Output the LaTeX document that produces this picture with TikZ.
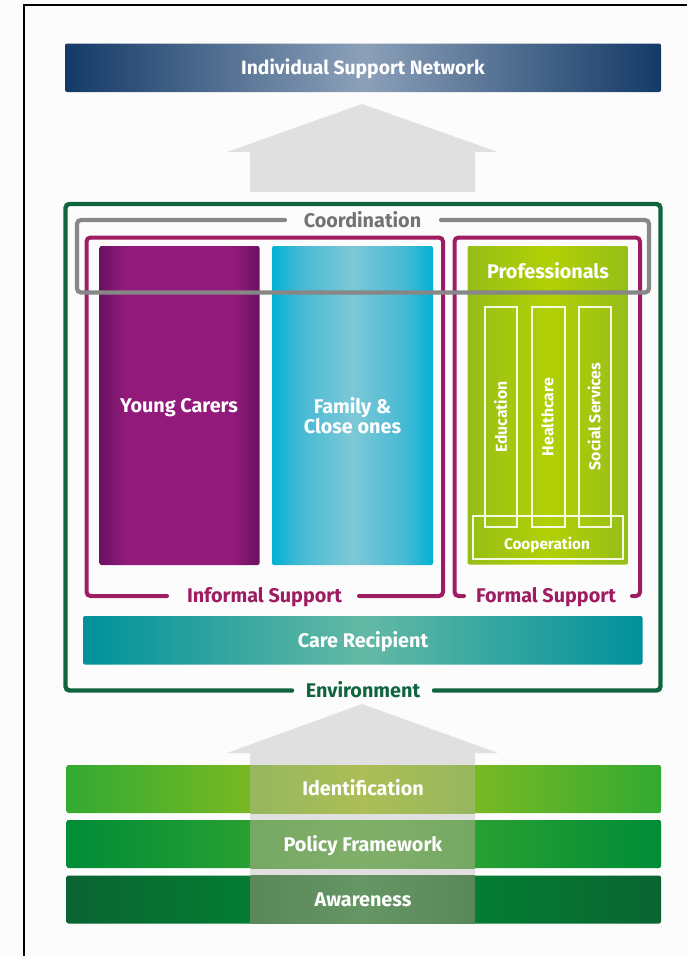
\documentclass[tikz,border=0pt]{standalone}
\usepackage{fontspec}
\setmainfont{Fira Sans}
\definecolor{navyE}{RGB}{20,58,103}
\definecolor{navyM}{RGB}{140,160,185}
\definecolor{arrowg}{RGB}{224,224,224}
\definecolor{frameG}{RGB}{16,100,62}
\definecolor{frameM}{RGB}{158,28,98}
\definecolor{frameK}{RGB}{135,135,135}
\definecolor{purE}{RGB}{105,18,98}
\definecolor{purM}{RGB}{146,26,122}
\definecolor{cyaE}{RGB}{0,178,212}
\definecolor{cyaQ}{RGB}{70,186,212}
\definecolor{cyaM}{RGB}{125,200,215}
\definecolor{limE}{RGB}{150,190,25}
\definecolor{limM}{RGB}{178,208,5}
\definecolor{tealE}{RGB}{0,145,155}
\definecolor{tealM}{RGB}{100,185,165}
\definecolor{idE}{RGB}{50,170,50}
\definecolor{idM}{RGB}{163,194,26}
\definecolor{poE}{RGB}{0,140,55}
\definecolor{poM}{RGB}{65,172,47}
\definecolor{awE}{RGB}{10,100,50}
\definecolor{awM}{RGB}{0,140,50}
\definecolor{idsE}{RGB}{150,183,95}
\definecolor{idsM}{RGB}{172,190,85}
\definecolor{posE}{RGB}{118,168,100}
\definecolor{posM}{RGB}{128,175,105}
\definecolor{awsE}{RGB}{90,135,90}
\definecolor{awsM}{RGB}{102,150,100}
\pgfdeclarehorizontalshading{purshade}{100bp}{color(0bp)=(purE);color(25bp)=(purE);color(33bp)=(purM);color(67bp)=(purM);color(75bp)=(purE);color(100bp)=(purE)}
\pgfdeclarehorizontalshading{cyashade}{100bp}{color(0bp)=(cyaE);color(25bp)=(cyaE);color(34bp)=(cyaQ);color(50bp)=(cyaM);color(66bp)=(cyaQ);color(75bp)=(cyaE);color(100bp)=(cyaE)}
\tikzset{
  x=1pt,y=-1pt,
  barshape/.style n args={2}{left color=#1,right color=#1,middle color=#2,rounded corners=2pt},
  colshape/.style={shading=#1,rounded corners=2pt},
  lab/.style={text=white,font=\bfseries\fontsize{19.8}{20}\selectfont,inner sep=0pt,align=center},
  labv/.style={text=white,font=\bfseries\fontsize{15.8}{16}\selectfont,inner sep=0pt,rotate=90},
  inbox/.style={draw=white!88!limM,line width=2pt},
  greenframe/.style={draw=frameG,line width=4.4pt,rounded corners=4pt,line cap=round},
  magframe/.style={draw=frameM,line width=4pt,rounded corners=4pt,line cap=round},
  greyframe/.style={draw=frameK,line width=4.2pt,rounded corners=4pt,line cap=round},
  bigarrow/.style={fill=arrowg}
}
\begin{document}
\begin{tikzpicture}
\useasboundingbox (0,0) rectangle (687,956);
\fill[white!99!black] (0,0) rectangle (687,956);
\draw[black,line width=2.8pt] (24,956) -- (24,5) -- (687,5);
% top bar
\path[barshape={navyE}{navyM}] (65,43.5) rectangle (661,92);
\node[lab,font=\bfseries\fontsize{19.3}{20}\selectfont] (isn) at (363,68.5) {Individual Support Network};
% arrows
\fill[bigarrow] (362,104) -- (498,152) -- (475,152) -- (475,192) -- (250,192) -- (250,152) -- (227,152) -- cycle;
\fill[bigarrow] (362,704) -- (498,753) -- (475,753) -- (475,923) -- (250,923) -- (250,753) -- (227,753) -- cycle;
% columns
\path[colshape=purshade] (99.5,246) rectangle (259.5,565);
\path[colshape=cyashade] (272,246) rectangle (433,565);
\path[barshape={limE}{limM}] (467.5,246) rectangle (628,564.5);
\node[lab] (yc) at (179,407.5) {Young Carers};
\node[lab,font=\bfseries\fontsize{19.8}{20}\selectfont] (fam) at (352.5,416) {Family \&\\Close ones};
\node[lab] (pro) at (548,270.5) {Professionals};
% inner boxes
\draw[inbox] (484.5,307) rectangle (516.5,527);
\draw[inbox] (531.5,307) rectangle (564.5,527);
\draw[inbox] (578.5,307) rectangle (611,527);
\draw[inbox] (472.5,516) rectangle (623,559);
\node[labv] (edu) at (500.5,417) {Education};
\node[labv] (hea) at (547.5,417) {Healthcare};
\node[labv] (soc) at (594,416.5) {Social Services};
\node[lab,font=\bfseries\fontsize{15.3}{16}\selectfont] (coop) at (547,544.5) {Cooperation};
% magenta frames
\draw[magframe] (167,596) -- (86.5,596) -- (86.5,237.5) -- (443,237.5) -- (443,596) -- (359,596);
\draw[magframe] (464,596) -- (454.5,596) -- (454.5,237.5) -- (640,237.5) -- (640,596) -- (632,596);
\node[lab] at (264.5,597) [text=frameM] (inf) {Informal Support};
\node[lab] at (546,597) [text=frameM] (form) {Formal Support};
% care recipient
\path[barshape={tealE}{tealM}] (83,616) rectangle (642.5,664.5);
\node[lab] (care) at (363,642) {Care Recipient};
% environment frame
\draw[greenframe] (292,690.5) -- (65.5,690.5) -- (65.5,204) -- (660.5,204) -- (660.5,690.5) -- (434,690.5);
\node[lab,text=frameG] (env) at (363,690) {Environment};
% coordination frame
\draw[greyframe] (285,220) -- (77,220) -- (77,292.5) -- (649,292.5) -- (649,220) -- (441,220);
\node[lab,text=frameK!85!black] (coord) at (362.5,220) {Coordination};
% bottom bars
\path[barshape={idE}{idM}] (66.5,765) rectangle (661,813);
\path[barshape={poE}{poM}] (66.5,820) rectangle (661,868);
\path[barshape={awE}{awM}] (66.5,875.5) rectangle (661,923.5);
\path[left color=idsE,right color=idsE,middle color=idsM] (250.5,765) rectangle (475,813);
\path[left color=posE,right color=posE,middle color=posM] (250.5,820) rectangle (475,868);
\path[left color=awsE,right color=awsE,middle color=awsM] (250.5,875.5) rectangle (475,923.5);
\node[lab] (ident) at (363,788) {Identification};
\node[lab] (pol) at (363,845.5) {Policy Framework};
\node[lab] (aware) at (363,900) {Awareness};
\end{tikzpicture}
\end{document}
